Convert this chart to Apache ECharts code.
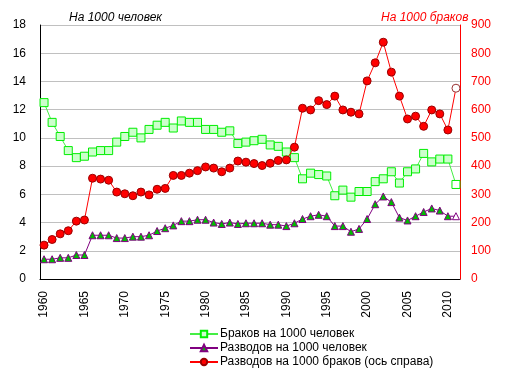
<!DOCTYPE html>
<html>
<head>
<meta charset="utf-8">
<script src="https://cdn.jsdelivr.net/npm/echarts@6/dist/echarts.min.js"></script>
<style>
  html, body { margin: 0; padding: 0; background: #fff; }
  #chart { width: 505px; height: 376px; }
</style>
</head>
<body>
<div id="chart"></div>
<script>
const years = ['1960', '1961', '1962', '1963', '1964', '1965', '1966', '1967', '1968', '1969',
  '1970', '1971', '1972', '1973', '1974', '1975', '1976', '1977', '1978', '1979',
  '1980', '1981', '1982', '1983', '1984', '1985', '1986', '1987', '1988', '1989',
  '1990', '1991', '1992', '1993', '1994', '1995', '1996', '1997', '1998', '1999',
  '2000', '2001', '2002', '2003', '2004', '2005', '2006', '2007', '2008', '2009',
  '2010', '2011']

// браков на 1000 человек
const marriages = [12.5, 11.1, 10.1, 9.1, 8.6, 8.7, 9.0, 9.1, 9.1, 9.7,
  10.1, 10.4, 10.0, 10.6, 10.9, 11.1, 10.7, 11.2, 11.1, 11.1,
  10.6, 10.6, 10.4, 10.5, 9.6, 9.7, 9.8, 9.9, 9.5, 9.4,
  9.0, 8.6, 7.1, 7.5, 7.4, 7.3, 5.9, 6.3, 5.8, 6.2,
  6.2, 6.9, 7.1, 7.6, 6.8, 7.6, 7.8, 8.9, 8.3, 8.5,
  8.5, 6.7]

// разводов на 1000 человек
const divorces = [1.4, 1.4, 1.5, 1.5, 1.7, 1.7, 3.1, 3.1, 3.1, 2.9,
  2.9, 3.0, 3.0, 3.1, 3.4, 3.6, 3.8, 4.1, 4.1, 4.2,
  4.2, 4.0, 3.9, 4.0, 3.9, 3.95, 3.95, 3.95, 3.85, 3.85,
  3.75, 3.95, 4.25, 4.45, 4.55, 4.45, 3.75, 3.75, 3.35, 3.55,
  4.25, 5.3, 5.85, 5.45, 4.35, 4.15, 4.45, 4.75, 5.0, 4.85,
  4.45, 4.45]

// разводов на 1000 браков
const perMarriage = [120, 140, 160, 171, 205, 209, 357, 354, 350, 308,
  302, 295, 308, 298, 318, 321, 367, 367, 375, 384,
  397, 393, 380, 393, 418, 414, 409, 402, 410, 420,
  422, 467, 605, 599, 632, 618, 648, 599, 591, 585,
  702, 766, 839, 733, 648, 567, 577, 541, 599, 585,
  528, 676]

const leftTicks = [0, 2, 4, 6, 8, 10, 12, 14, 16, 18]
const rightTicks = [0, 100, 200, 300, 400, 500, 600, 700, 800, 900]

// последняя точка (2011) — пустой маркер
const lastHollow = (arr, border) => arr.map((v, i) => i === arr.length - 1
  ? { value: v, itemStyle: { color: '#fff', borderColor: border } }
  : v)

const chart = echarts.init(document.getElementById('chart'))
const font = 'Liberation Sans, Arial, sans-serif'

chart.setOption({
  animation: false,
  textStyle: { fontFamily: font },
  title: [
    { text: 'На 1000 человек', left: 64, top: 7,
      textStyle: { fontSize: 12, fontWeight: 'normal', fontStyle: 'italic', color: '#000', fontFamily: font } },
    { text: 'На 1000 браков', left: 376, top: 7,
      textStyle: { fontSize: 12, fontWeight: 'normal', fontStyle: 'italic', color: '#ff0000', fontFamily: font } },
  ],
  grid: { left: 40, right: 45, top: 25, bottom: 97 },
  legend: {
    orient: 'vertical',
    left: 184,
    top: 323,
    itemWidth: 28,
    itemHeight: 8,
    itemGap: 2,
    textStyle: { fontSize: 12, color: '#000', fontFamily: font, padding: [0, 0, 0, -3] },
  },
  xAxis: {
    type: 'category',
    data: years,
    boundaryGap: true,
    axisLine: { lineStyle: { color: '#000' } },
    axisTick: { show: false },
    axisLabel: { interval: 4, rotate: 90, fontSize: 12, color: '#000', margin: 12, fontFamily: font },
  },
  yAxis: [
    {
      type: 'value', min: leftTicks[0], max: leftTicks[leftTicks.length - 1], interval: 2,
      axisLine: { show: true, lineStyle: { color: '#000' } },
      axisTick: { show: false },
      axisLabel: { fontSize: 12, color: '#000', margin: 14, fontFamily: font },
      splitLine: { lineStyle: { color: '#c0c0c0' } },
    },
    {
      type: 'value', min: rightTicks[0], max: rightTicks[rightTicks.length - 1], interval: 100,
      position: 'right',
      axisLine: { show: true, lineStyle: { color: '#ff0000' } },
      axisTick: { show: false },
      axisLabel: { fontSize: 12, color: '#ff0000', margin: 11, fontFamily: font },
      splitLine: { show: false },
    },
  ],
  series: [
    {
      name: 'Браков на 1000 человек',
      type: 'line',
      yAxisIndex: 0,
      data: lastHollow(marriages, '#00ee00'),
      symbol: 'rect',
      symbolSize: 8,
      showAllSymbol: true,
      lineStyle: { color: '#44ee44', width: 1 },
      itemStyle: { color: '#ccffcc', borderColor: '#00ee00', borderWidth: 1 },
      z: 3,
    },
    {
      name: 'Разводов на 1000 человек',
      type: 'line',
      yAxisIndex: 0,
      data: lastHollow(divorces, '#800080'),
      symbol: 'triangle',
      symbolSize: 7,
      showAllSymbol: true,
      lineStyle: { color: '#800080', width: 1 },
      itemStyle: { color: '#00bb00', borderColor: '#800080', borderWidth: 1 },
      z: 4,
    },
    {
      name: 'Разводов на 1000 браков (ось справа)',
      type: 'line',
      yAxisIndex: 1,
      data: lastHollow(perMarriage, '#993333'),
      symbol: 'circle',
      symbolSize: 8,
      showAllSymbol: true,
      lineStyle: { color: '#ff0000', width: 1 },
      itemStyle: { color: '#ff0000', borderColor: '#990000', borderWidth: 1 },
      z: 5,
    },
  ],
})
</script>
</body>
</html>
